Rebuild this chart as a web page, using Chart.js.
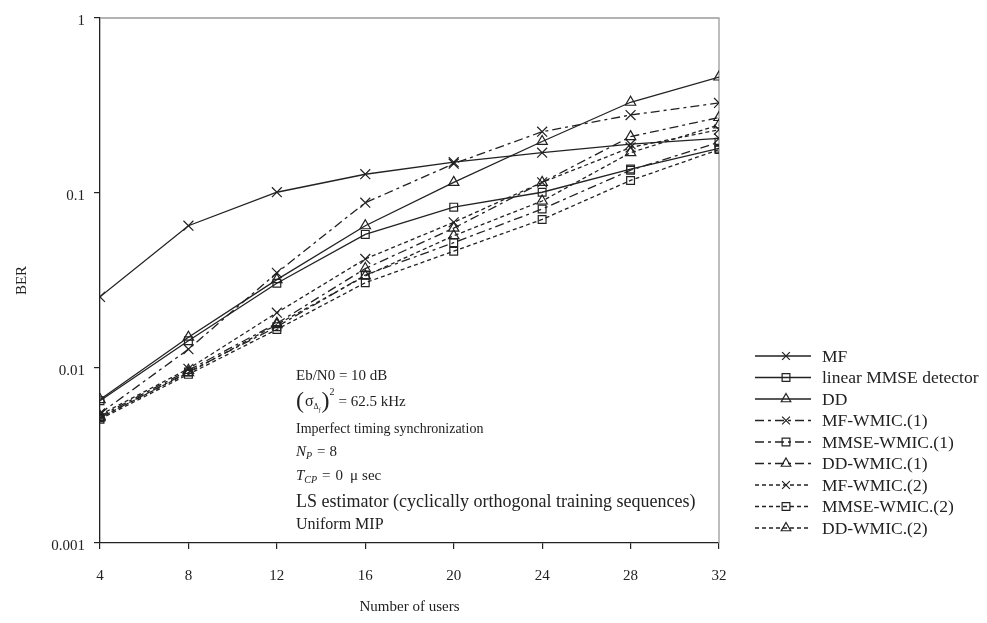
<!DOCTYPE html>
<html>
<head>
<meta charset="utf-8">
<script src="https://cdn.jsdelivr.net/npm/chart.js@4/dist/chart.umd.min.js"></script>
<style>
  html, body { margin: 0; padding: 0; background: #fff; }
  #wrap { width: 987px; height: 623px; }
</style>
</head>
<body>
<div id="wrap"><canvas id="c" width="987" height="623"></canvas></div>
<script>
// Number of users on the x axis
const users = [4, 8, 12, 16, 20, 24, 28, 32];

// BER per detector
const mf          = [0.0255, 0.065, 0.101, 0.128, 0.150, 0.170, 0.190, 0.205];
const linearMmse  = [0.0065, 0.0143, 0.0305, 0.058, 0.083, 0.101, 0.137, 0.180];
const dd          = [0.0066, 0.0150, 0.0320, 0.065, 0.115, 0.197, 0.330, 0.460];
const mfWmic1     = [0.0055, 0.0128, 0.0350, 0.088, 0.147, 0.224, 0.279, 0.327];
const mmseWmic1   = [0.0052, 0.0095, 0.0172, 0.034, 0.052, 0.081, 0.135, 0.195];
const ddWmic1     = [0.0053, 0.0097, 0.0180, 0.037, 0.063, 0.115, 0.210, 0.270];
const mfWmic2     = [0.0054, 0.0099, 0.0207, 0.042, 0.068, 0.115, 0.182, 0.230];
const mmseWmic2   = [0.0051, 0.0092, 0.0166, 0.0307, 0.0465, 0.0706, 0.118, 0.177];
const ddWmic2     = [0.0052, 0.0094, 0.0177, 0.0336, 0.057, 0.090, 0.170, 0.245];

const seriesNames = [
  'MF', 'linear MMSE detector', 'DD',
  'MF-WMIC.(1)', 'MMSE-WMIC.(1)', 'DD-WMIC.(1)',
  'MF-WMIC.(2)', 'MMSE-WMIC.(2)', 'DD-WMIC.(2)'
];

// Axis ticks
const xTicks = [4, 8, 12, 16, 20, 24, 28, 32];
const yTicks = [0.001, 0.01, 0.1, 1];
const yTickLabels = ['0.001', '0.01', '0.1', '1'];

const INK = '#222';
const SERIF = '"Liberation Serif", "Times New Roman", serif';
const SOLID = [];
const DASHDOT = [9, 4, 3, 4];
const DOTTED = [4, 3];

const styleFor = {
  cross: { pointStyle: 'crossRot', pointRadius: 7 },
  rect: { pointStyle: 'rect', pointRadius: 5.5 },
  tri: { pointStyle: 'triangle', pointRadius: 6 }
};

function series(label, values, marker, dash) {
  return {
    label,
    data: users.map((u, i) => ({ x: u, y: values[i] })),
    borderColor: INK,
    backgroundColor: 'rgba(0,0,0,0)',
    borderWidth: 1.3,
    borderDash: dash,
    pointStyle: styleFor[marker].pointStyle,
    pointRadius: styleFor[marker].pointRadius,
    pointHoverRadius: styleFor[marker].pointRadius,
    pointBorderColor: INK,
    pointBackgroundColor: 'rgba(0,0,0,0)',
    pointBorderWidth: 1.2,
    tension: 0,
    fill: false,
    _marker: marker
  };
}

const datasets = [
  series(seriesNames[0], mf, 'cross', SOLID),
  series(seriesNames[1], linearMmse, 'rect', SOLID),
  series(seriesNames[2], dd, 'tri', SOLID),
  series(seriesNames[3], mfWmic1, 'cross', DASHDOT),
  series(seriesNames[4], mmseWmic1, 'rect', DASHDOT),
  series(seriesNames[5], ddWmic1, 'tri', DASHDOT),
  series(seriesNames[6], mfWmic2, 'cross', DOTTED),
  series(seriesNames[7], mmseWmic2, 'rect', DOTTED),
  series(seriesNames[8], ddWmic2, 'tri', DOTTED)
];

// small marker painter used by the side legend
function paintMarker(ctx, kind, x, y, r) {
  ctx.save();
  ctx.setLineDash([]);
  ctx.strokeStyle = INK;
  ctx.lineWidth = 1.2;
  ctx.beginPath();
  if (kind === 'cross') {
    const d = r * Math.SQRT1_2;
    ctx.moveTo(x - d, y - d); ctx.lineTo(x + d, y + d);
    ctx.moveTo(x - d, y + d); ctx.lineTo(x + d, y - d);
  } else if (kind === 'rect') {
    const s = r * Math.SQRT1_2;
    ctx.rect(x - s, y - s, 2 * s, 2 * s);
  } else {
    const h = r * 1.5, w = r * Math.sqrt(3);
    ctx.moveTo(x, y - r);
    ctx.lineTo(x + w / 2, y - r + h);
    ctx.lineTo(x - w / 2, y - r + h);
    ctx.closePath();
  }
  ctx.stroke();
  ctx.restore();
}

const sideLegend = {
  id: 'sideLegend',
  afterDraw(chart) {
    const ctx = chart.ctx;
    const x0 = 755, x1 = 811, xm = 786, tx = 822;
    let y = 356;
    chart.data.datasets.forEach(ds => {
      ctx.save();
      ctx.strokeStyle = INK;
      ctx.lineWidth = 1.3;
      ctx.setLineDash(ds.borderDash);
      ctx.beginPath();
      ctx.moveTo(x0, y); ctx.lineTo(x1, y);
      ctx.stroke();
      ctx.restore();
      paintMarker(ctx, ds._marker, xm, y, 5.5);
      ctx.save();
      ctx.fillStyle = INK;
      ctx.font = '17.5px ' + SERIF;
      ctx.textBaseline = 'middle';
      ctx.fillText(ds.label, tx, y + 1);
      ctx.restore();
      y += 21.5;
    });
  }
};

// writes text pieces left to right, each with its own font and baseline shift
function writeRun(ctx, x, y, pieces) {
  let cx = x;
  pieces.forEach(p => {
    if (p.gap) { cx += p.gap; return; }
    ctx.font = p.font;
    ctx.fillText(p.t, cx, y + (p.dy || 0));
    cx += ctx.measureText(p.t).width;
  });
  return cx;
}

const frameAndNotes = {
  id: 'frameAndNotes',
  beforeDatasetsDraw(chart) {
    const { ctx, chartArea: a } = chart;
    ctx.save();
    ctx.strokeStyle = '#9a9a9a';
    ctx.lineWidth = 1.3;
    ctx.beginPath();
    ctx.moveTo(a.left, a.top); ctx.lineTo(a.right, a.top); ctx.lineTo(a.right, a.bottom);
    ctx.stroke();
    ctx.restore();
  },
  afterDraw(chart) {
    const ctx = chart.ctx;
    const x = 296;
    const body = '15px ' + SERIF;
    ctx.save();
    ctx.fillStyle = INK;
    ctx.textBaseline = 'middle';

    writeRun(ctx, x, 376, [{ t: 'Eb/N0 = 10 dB', font: body }]);

    // (σ_Δf)^2 = 62.5 kHz
    writeRun(ctx, x, 402, [
      { t: '(', font: '24px ' + SERIF },
      { gap: 1 },
      { t: 'σ', font: '16px ' + SERIF },
      { t: 'Δ', font: '8px ' + SERIF, dy: 5 },
      { t: 'f', font: 'italic 6px ' + SERIF, dy: 8 },
      { gap: 1 },
      { t: ')', font: '24px ' + SERIF },
      { t: '2', font: '10px ' + SERIF, dy: -10 },
      { gap: 4 },
      { t: '= 62.5 kHz', font: body }
    ]);

    writeRun(ctx, x, 429, [{ t: 'Imperfect timing synchronization', font: '14px ' + SERIF }]);

    // N_P = 8
    writeRun(ctx, x, 452, [
      { t: 'N', font: 'italic 15px ' + SERIF },
      { t: 'P', font: 'italic 10px ' + SERIF, dy: 4 },
      { gap: 5 },
      { t: '=', font: body },
      { gap: 4 },
      { t: '8', font: body }
    ]);

    // T_CP = 0 μ sec
    writeRun(ctx, x, 476, [
      { t: 'T', font: 'italic 15px ' + SERIF },
      { t: 'CP', font: 'italic 10px ' + SERIF, dy: 4 },
      { gap: 5 },
      { t: '=', font: body },
      { gap: 5 },
      { t: '0', font: body },
      { gap: 7 },
      { t: 'μ', font: body },
      { gap: 4 },
      { t: 'sec', font: body }
    ]);

    writeRun(ctx, x, 502, [{ t: 'LS estimator (cyclically orthogonal training sequences)', font: '18px ' + SERIF }]);
    writeRun(ctx, x, 525, [{ t: 'Uniform MIP', font: '16px ' + SERIF }]);
    ctx.restore();
  }
};

new Chart(document.getElementById('c'), {
  type: 'line',
  data: { datasets },
  plugins: [frameAndNotes, sideLegend],
  options: {
    responsive: false,
    devicePixelRatio: 1,
    animation: false,
    layout: { padding: { left: 0, right: 268, top: 12, bottom: 0 } },
    plugins: { legend: { display: false }, tooltip: { enabled: false } },
    scales: {
      x: {
        type: 'linear',
        min: 4, max: 32,
        afterBuildTicks: s => { s.ticks = xTicks.map(v => ({ value: v })); },
        afterFit: s => { s.height = 80; },
        ticks: { color: INK, font: { family: SERIF, size: 15 }, padding: 18, maxRotation: 0 },
        grid: { display: true, drawOnChartArea: false, drawTicks: true, tickLength: 6, color: INK, lineWidth: 1.2 },
        border: { display: true, color: INK, width: 1.3 },
        title: { display: true, text: 'Number of users', color: INK, font: { family: SERIF, size: 15 }, padding: { top: 0, bottom: 7 } }
      },
      y: {
        type: 'logarithmic',
        min: 0.001, max: 1,
        afterBuildTicks: s => { s.ticks = yTicks.map(v => ({ value: v })); },
        afterFit: s => { s.width = 100; },
        ticks: {
          color: INK, font: { family: SERIF, size: 15 }, padding: 9, labelOffset: 3,
          callback: v => { const i = yTicks.indexOf(v); return i >= 0 ? yTickLabels[i] : ''; }
        },
        grid: { display: true, drawOnChartArea: false, drawTicks: true, tickLength: 6, color: INK, lineWidth: 1.2 },
        border: { display: true, color: INK, width: 1.3 },
        title: { display: true, text: 'BER', color: INK, font: { family: SERIF, size: 15 }, padding: { top: 13, bottom: 0 } }
      }
    }
  }
});
</script>
</body>
</html>
